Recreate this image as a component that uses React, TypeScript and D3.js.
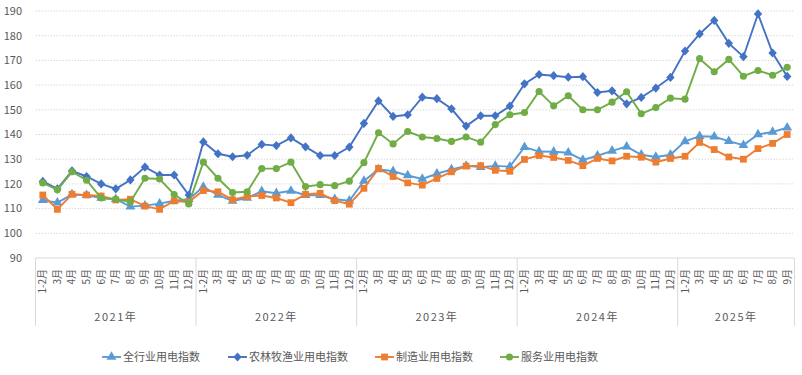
import { scaleBand, scaleLinear, line, symbol, symbolSquare, symbolTriangle, symbolCircle } from 'd3';

const width = 802;
const height = 375;

const years = ['2021年', '2022年', '2023年', '2024年', '2025年'];
const monthsFull = ['1-2月', '3月', '4月', '5月', '6月', '7月', '8月', '9月', '10月', '11月', '12月'];
const monthsLast = ['1-2月', '3月', '4月', '5月', '6月', '7月', '8月', '9月'];
const yTicks = [90, 100, 110, 120, 130, 140, 150, 160, 170, 180, 190];

// 全行业用电指数
const allIndustry = [
  113.4, 112.4, 115.7, 115.4, 114.3, 113.8, 110.8, 111.2, 112.0, 113.2, 113.8,
  118.8, 115.5, 113.1, 114.3, 117.0, 116.2, 117.2, 115.4, 115.4, 113.8, 113.2,
  121.2, 125.9, 125.1, 123.4, 122.0, 124.1, 125.9, 127.3, 126.8, 127.3, 127.0,
  134.9, 133.1, 133.0, 132.6, 129.7, 131.4, 133.4, 135.1, 131.8, 130.9, 131.8,
  137.2, 139.3, 139.1, 137.3, 135.7, 140.0, 141.0, 142.8,
];
// 农林牧渔业用电指数
const agriculture = [
  121.0, 118.0, 125.3, 123.0, 120.0, 118.0, 121.6, 126.8, 123.6, 123.6, 115.5,
  137.0, 132.2, 131.0, 131.6, 136.0, 135.5, 138.6, 135.0, 131.5, 131.5, 134.9,
  144.5, 153.6, 147.3, 148.0, 155.1, 154.5, 150.4, 143.4, 147.6, 147.6, 151.5,
  160.5, 164.3, 163.8, 163.2, 163.4, 157.0, 157.7, 152.4, 155.0, 158.8, 163.1,
  173.8, 180.7, 186.2, 176.9, 171.5, 188.8, 173.0, 163.5,
];
// 制造业用电指数
const manufacturing = [
  115.5, 109.7, 115.8, 115.5, 115.1, 113.5, 113.8, 111.0, 109.7, 113.1, 112.7,
  117.3, 116.8, 113.6, 114.9, 115.3, 114.3, 112.4, 115.8, 116.2, 113.2, 111.8,
  118.2, 126.3, 123.0, 120.4, 119.5, 122.2, 124.9, 127.2, 127.4, 125.5, 125.1,
  129.9, 131.5, 130.7, 129.5, 127.4, 130.3, 129.3, 131.2, 130.8, 128.8, 130.3,
  131.2, 136.8, 133.9, 130.9, 130.0, 134.3, 136.4, 140.0,
];
// 服务业用电指数
const services = [
  120.4, 117.6, 124.9, 121.5, 114.3, 113.8, 112.7, 122.3, 122.0, 115.7, 111.9,
  128.8, 122.3, 116.5, 116.8, 126.2, 126.2, 128.8, 118.9, 119.7, 119.3, 121.1,
  128.6, 140.7, 136.2, 141.2, 139.0, 138.4, 137.2, 139.0, 136.9, 144.0, 148.0,
  148.9, 157.4, 151.6, 155.7, 150.0, 150.0, 153.1, 157.3, 148.4, 150.9, 154.7,
  154.3, 170.7, 165.4, 170.4, 163.6, 165.9, 164.0, 167.2,
];

const categories = years.flatMap((y, yi) =>
  (yi === years.length - 1 ? monthsLast : monthsFull).map((m) => ({ year: y, month: m }))
);

// Excel-style diamond: a square turned 45°
const diamond = 'M0,-4.6L4.2,0L0,4.6L-4.2,0Z';

const series = [
  { name: '全行业用电指数', values: allIndustry, color: '#5B9BD5', marker: symbol().type(symbolTriangle).size(42)() },
  { name: '农林牧渔业用电指数', values: agriculture, color: '#4472C4', marker: diamond },
  { name: '制造业用电指数', values: manufacturing, color: '#ED7D31', marker: symbol().type(symbolSquare).size(46)() },
  { name: '服务业用电指数', values: services, color: '#70AD47', marker: symbol().type(symbolCircle).size(40)() },
];

const left = 35.5;
const right = 794.5;
const top = 11;
const bottom = 258;

const x = scaleBand<number>()
  .domain(categories.map((_, i) => i))
  .range([left, right]);
const y = scaleLinear().domain([90, 190]).range([bottom, top]);

const cx = (i: number) => (x(i) ?? 0) + x.bandwidth() / 2;

const font = 'Microsoft YaHei, "Noto Sans CJK SC", "Noto Sans", sans-serif';

const App = () => {
  // year boundaries
  const boundaries: number[] = [left];
  const yearSpans: { label: string; mid: number }[] = [];
  let start = 0;
  years.forEach((yr) => {
    const n = categories.filter((c) => c.year === yr).length;
    const x0 = x(start) ?? 0;
    const x1 = (x(start + n - 1) ?? 0) + x.bandwidth();
    boundaries.push(x1);
    yearSpans.push({ label: yr, mid: (x0 + x1) / 2 });
    start += n;
  });

  const legendX = [102, 228, 375, 500];

  return (
    <svg width={width} height={height} style={{ position: 'absolute', left: 0, top: 0, fontFamily: font }}>
      <rect width={width} height={height} fill="#fff" />
      {yTicks.map((t) => (
        <g key={t}>
          {t !== 90 && (
            <line x1={left} x2={right} y1={y(t)} y2={y(t)} stroke="#D9D9D9" strokeDasharray="1.5,1.5" />
          )}
          <text x={22} y={y(t)} dy="0.35em" textAnchor="end" fontSize={11} fill="#595959">
            {t}
          </text>
        </g>
      ))}
      <line x1={left} x2={right} y1={bottom} y2={bottom} stroke="#D9D9D9" />
      {boundaries.map((b, i) => (
        <line key={i} x1={b} x2={b} y1={bottom} y2={326} stroke="#D9D9D9" />
      ))}
      {categories.map((c, i) => (
        <text
          key={i}
          transform={`translate(${cx(i)},269) rotate(-90)`}
          textAnchor="end"
          dy="0.35em"
          fontSize={10}
          fill="#595959"
        >
          {c.month}
        </text>
      ))}
      {yearSpans.map((s) => (
        <text key={s.label} x={s.mid} y={317} textAnchor="middle" dy="0.35em" fontSize={11} fill="#595959" letterSpacing={1.5}>
          {s.label}
        </text>
      ))}
      {series.map((s) => {
        const path = line<number>()
          .x((_, i) => cx(i))
          .y((d) => y(d))(s.values);
        return (
          <g key={s.name}>
            <path d={path ?? ''} fill="none" stroke={s.color} strokeWidth={1.9} />
            {s.values.map((v, i) => (
              <path key={i} d={s.marker ?? ''} transform={`translate(${cx(i)},${y(v)})`} fill={s.color} />
            ))}
          </g>
        );
      })}
      {series.map((s, i) => {
        const lx = legendX[i];
        return (
          <g key={s.name} transform={`translate(${lx},357)`}>
            <line x1={0} x2={19} y1={0} y2={0} stroke={s.color} strokeWidth={1.9} />
            <path d={s.marker ?? ''} transform="translate(9.5,0)" fill={s.color} />
            <text x={21} y={0} dy="0.35em" fontSize={11} fill="#595959">
              {s.name}
            </text>
          </g>
        );
      })}
    </svg>
  );
};

export default App;
